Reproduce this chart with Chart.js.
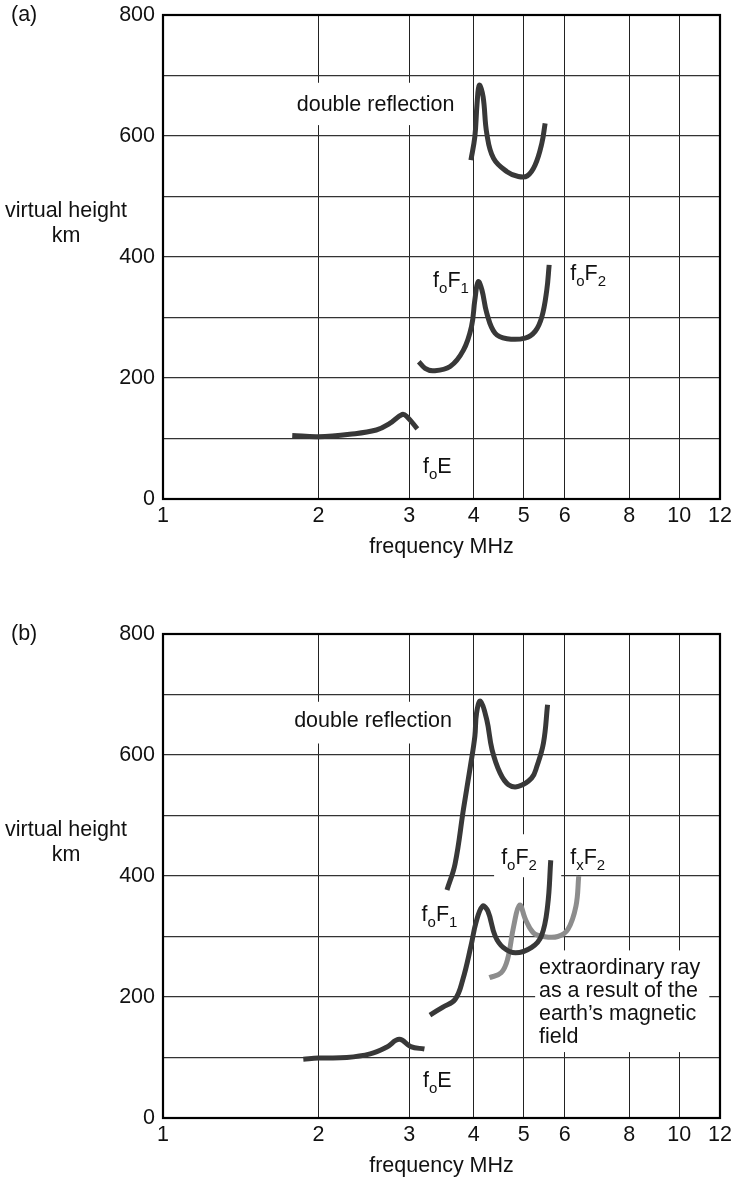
<!DOCTYPE html>
<html>
<head>
<meta charset="utf-8">
<script src="https://cdn.jsdelivr.net/npm/chart.js@4.4.1/dist/chart.umd.min.js"></script>
<style>
  html, body { margin: 0; padding: 0; background: #fff; }
  body { width: 732px; height: 1180px; position: relative; overflow: hidden;
         font-family: "Liberation Sans", Arial, Helvetica, sans-serif; color: #111; }
  .panel { position: absolute; left: 0; width: 732px; height: 561px; }
  .panel canvas { position: absolute; left: 0; top: 0; }
  .lbl { position: absolute; font-size: 21.5px; line-height: 23px; white-space: nowrap;
         transform: translateY(-50%); }
  .lbl sub { font-size: 15px; vertical-align: baseline; position: relative; top: 6px; line-height: 0; }
  .tag { position: absolute; left: 11px; top: 3px; font-size: 21.5px; line-height: 23px; }
  .ytitle { position: absolute; left: 4px; top: 198px; width: 124px; text-align: center;
            font-size: 21.5px; line-height: 25px; }
</style>
</head>
<body>
<div class="panel" id="panelA" style="top:0px">
  <canvas id="chartA" width="732" height="561"></canvas>
  <div class="tag">(a)</div>
  <div class="ytitle">virtual height<br>km</div>
</div>
<div class="panel" id="panelB" style="top:619px">
  <canvas id="chartB" width="732" height="561"></canvas>
  <div class="tag">(b)</div>
  <div class="ytitle">virtual height<br>km</div>
</div>
<script>
const xTicks = [1, 2, 3, 4, 5, 6, 8, 10, 12];
const yLabels = [0, 200, 400, 600, 800];

// ---- panel (a) ----
const aEFreq = [1.78, 2.0, 2.3, 2.59, 2.75, 2.91, 2.97, 3.11];
const aEHeight = [105, 103, 107, 114, 125, 140, 136, 116];

const aFFreq = [3.13, 3.22, 3.34, 3.6, 3.82, 3.96, 4.02, 4.08, 4.15, 4.24, 4.4, 4.64, 5.03, 5.26, 5.42, 5.54, 5.6];
const aFHeight = [227, 216, 212, 219, 246, 285, 329, 359, 345, 307, 274, 265, 266, 277, 301, 345, 387];

const aDoubleFreq = [3.95, 4.02, 4.06, 4.1, 4.17, 4.24, 4.37, 4.64, 4.88, 5.08, 5.26, 5.42, 5.5];
const aDoubleHeight = [560, 599, 654, 684, 665, 604, 563, 541, 533, 534, 552, 588, 621];

// ---- panel (b) ----
const bEFreq = [1.87, 2.0, 2.27, 2.52, 2.71, 2.87, 3.02, 3.21];
const bEHeight = [97, 99, 100, 106, 117, 130, 118, 114];

const bFFreq = [3.29, 3.48, 3.68, 3.81, 3.95, 4.04, 4.16, 4.26, 4.4, 4.56, 4.82, 5.18, 5.41, 5.56, 5.64];
const bFHeight = [170, 183, 196, 229, 284, 323, 350, 342, 301, 282, 273, 282, 301, 350, 426];

const bXFreq = [4.29, 4.52, 4.65, 4.78, 4.91, 5.04, 5.22, 5.46, 5.82, 6.09, 6.31, 6.39];
const bXHeight = [232, 240, 262, 317, 352, 328, 306, 300, 300, 312, 350, 400];

const bDoubleFreq = [3.55, 3.68, 3.82, 3.94, 4.02, 4.05, 4.12, 4.24, 4.34, 4.5, 4.67, 4.88, 5.18, 5.3, 5.46, 5.56];
const bDoubleHeight = [377, 420, 510, 581, 631, 669, 689, 658, 609, 570, 551, 548, 562, 581, 620, 683];

const DARK = "#383838";
const GREY = "#8d8d8d";

function pts(fs, hs) {
  return fs.map((f, i) => ({ x: f, y: hs[i] }));
}

function curve(fs, hs, color) {
  return {
    data: pts(fs, hs),
    showLine: true,
    borderColor: color,
    borderWidth: 5,
    borderCapStyle: "butt",
    borderJoinStyle: "round",
    pointRadius: 0,
    tension: 0.4,
  };
}

// white boxes that break the grid behind labels (data coords) + frame
const decorPlugin = {
  id: "decor",
  beforeDatasetsDraw(chart, args, opts) {
    const { ctx, chartArea, scales } = chart;
    ctx.save();
    ctx.fillStyle = "#fff";
    (opts.boxes || []).forEach((b) => {
      const x1 = scales.x.getPixelForValue(b.f1);
      const x2 = scales.x.getPixelForValue(b.f2);
      const y1 = scales.y.getPixelForValue(b.h1);
      const y2 = scales.y.getPixelForValue(b.h2);
      ctx.fillRect(x1, y1, x2 - x1, y2 - y1);
    });
    ctx.strokeStyle = "#000";
    ctx.lineWidth = 2.2;
    ctx.strokeRect(chartArea.left, chartArea.top, chartArea.right - chartArea.left, chartArea.bottom - chartArea.top);
    ctx.restore();
  },
};

const font = { family: '"Liberation Sans", Arial, sans-serif', size: 21.5 };

function makePanel(canvasId, panelId, datasets, boxes, labels) {
  const chart = new Chart(document.getElementById(canvasId), {
    type: "scatter",
    data: { datasets },
    options: {
      responsive: false,
      animation: false,
      layout: { padding: { top: 15, right: 12, bottom: 0, left: 0 } },
      plugins: {
        legend: { display: false },
        tooltip: { enabled: false },
        decor: { boxes },
      },
      scales: {
        x: {
          type: "logarithmic",
          min: 1,
          max: 12,
          afterBuildTicks: (scale) => {
            scale.ticks = xTicks.map((v) => ({ value: v }));
          },
          afterFit: (scale) => {
            scale.height = 62;
            scale.paddingLeft = 0;
            scale.paddingRight = 0;
          },
          ticks: {
            autoSkip: false,
            maxRotation: 0,
            padding: 4,
            color: "#111",
            font,
            callback: (v) => String(v),
          },
          grid: { color: "#222", lineWidth: 1, drawTicks: false },
          border: { display: false },
          title: {
            display: true,
            text: "frequency MHz",
            color: "#111",
            font,
            padding: { top: 4, bottom: 1 },
          },
        },
        y: {
          min: 0,
          max: 800,
          afterFit: (scale) => {
            scale.width = 163;
            scale.paddingTop = 0;
            scale.paddingBottom = 0;
          },
          ticks: {
            stepSize: 100,
            padding: 8,
            color: "#111",
            font,
            callback: (v) => (yLabels.includes(v) ? String(v) : ""),
          },
          grid: { color: "#333", lineWidth: 1.2, drawTicks: false },
          border: { display: false },
        },
      },
    },
    plugins: [decorPlugin],
  });

  const panel = document.getElementById(panelId);
  labels.forEach((l) => {
    const d = document.createElement("div");
    d.className = "lbl";
    d.innerHTML = l.html;
    d.style.left = chart.scales.x.getPixelForValue(l.f) + "px";
    d.style.top = chart.scales.y.getPixelForValue(l.h) + "px";
    panel.appendChild(d);
  });
  return chart;
}

makePanel(
  "chartA",
  "panelA",
  [
    curve(aEFreq, aEHeight, DARK),
    curve(aFFreq, aFHeight, DARK),
    curve(aDoubleFreq, aDoubleHeight, DARK),
  ],
  [{ f1: 1.76, f2: 3.7, h1: 688, h2: 618 }],
  [
    { html: "double reflection", f: 1.816, h: 653 },
    { html: "f<sub>o</sub>F<sub>1</sub>", f: 3.336, h: 362 },
    { html: "f<sub>o</sub>F<sub>2</sub>", f: 6.15, h: 374 },
    { html: "f<sub>o</sub>E", f: 3.19, h: 55 },
  ]
);

makePanel(
  "chartB",
  "panelB",
  [
    curve(bEFreq, bEHeight, DARK),
    curve(bFFreq, bFHeight, DARK),
    curve(bXFreq, bXHeight, GREY),
    curve(bDoubleFreq, bDoubleHeight, DARK),
  ],
  [
    { f1: 1.76, f2: 3.7, h1: 688, h2: 619 },
    { f1: 4.38, f2: 5.91, h1: 469, h2: 398 },
    { f1: 5.26, f2: 11.44, h1: 277, h2: 109 },
  ],
  [
    { html: "double reflection", f: 1.795, h: 658 },
    { html: "f<sub>o</sub>F<sub>1</sub>", f: 3.17, h: 337 },
    { html: "f<sub>o</sub>F<sub>2</sub>", f: 4.52, h: 431 },
    { html: "f<sub>x</sub>F<sub>2</sub>", f: 6.15, h: 431 },
    { html: "f<sub>o</sub>E", f: 3.19, h: 63 },
    { html: "extraordinary ray<br>as a result of the<br>earth\u2019s magnetic<br>field", f: 5.35, h: 192 },
  ]
);
</script>
</body>
</html>
